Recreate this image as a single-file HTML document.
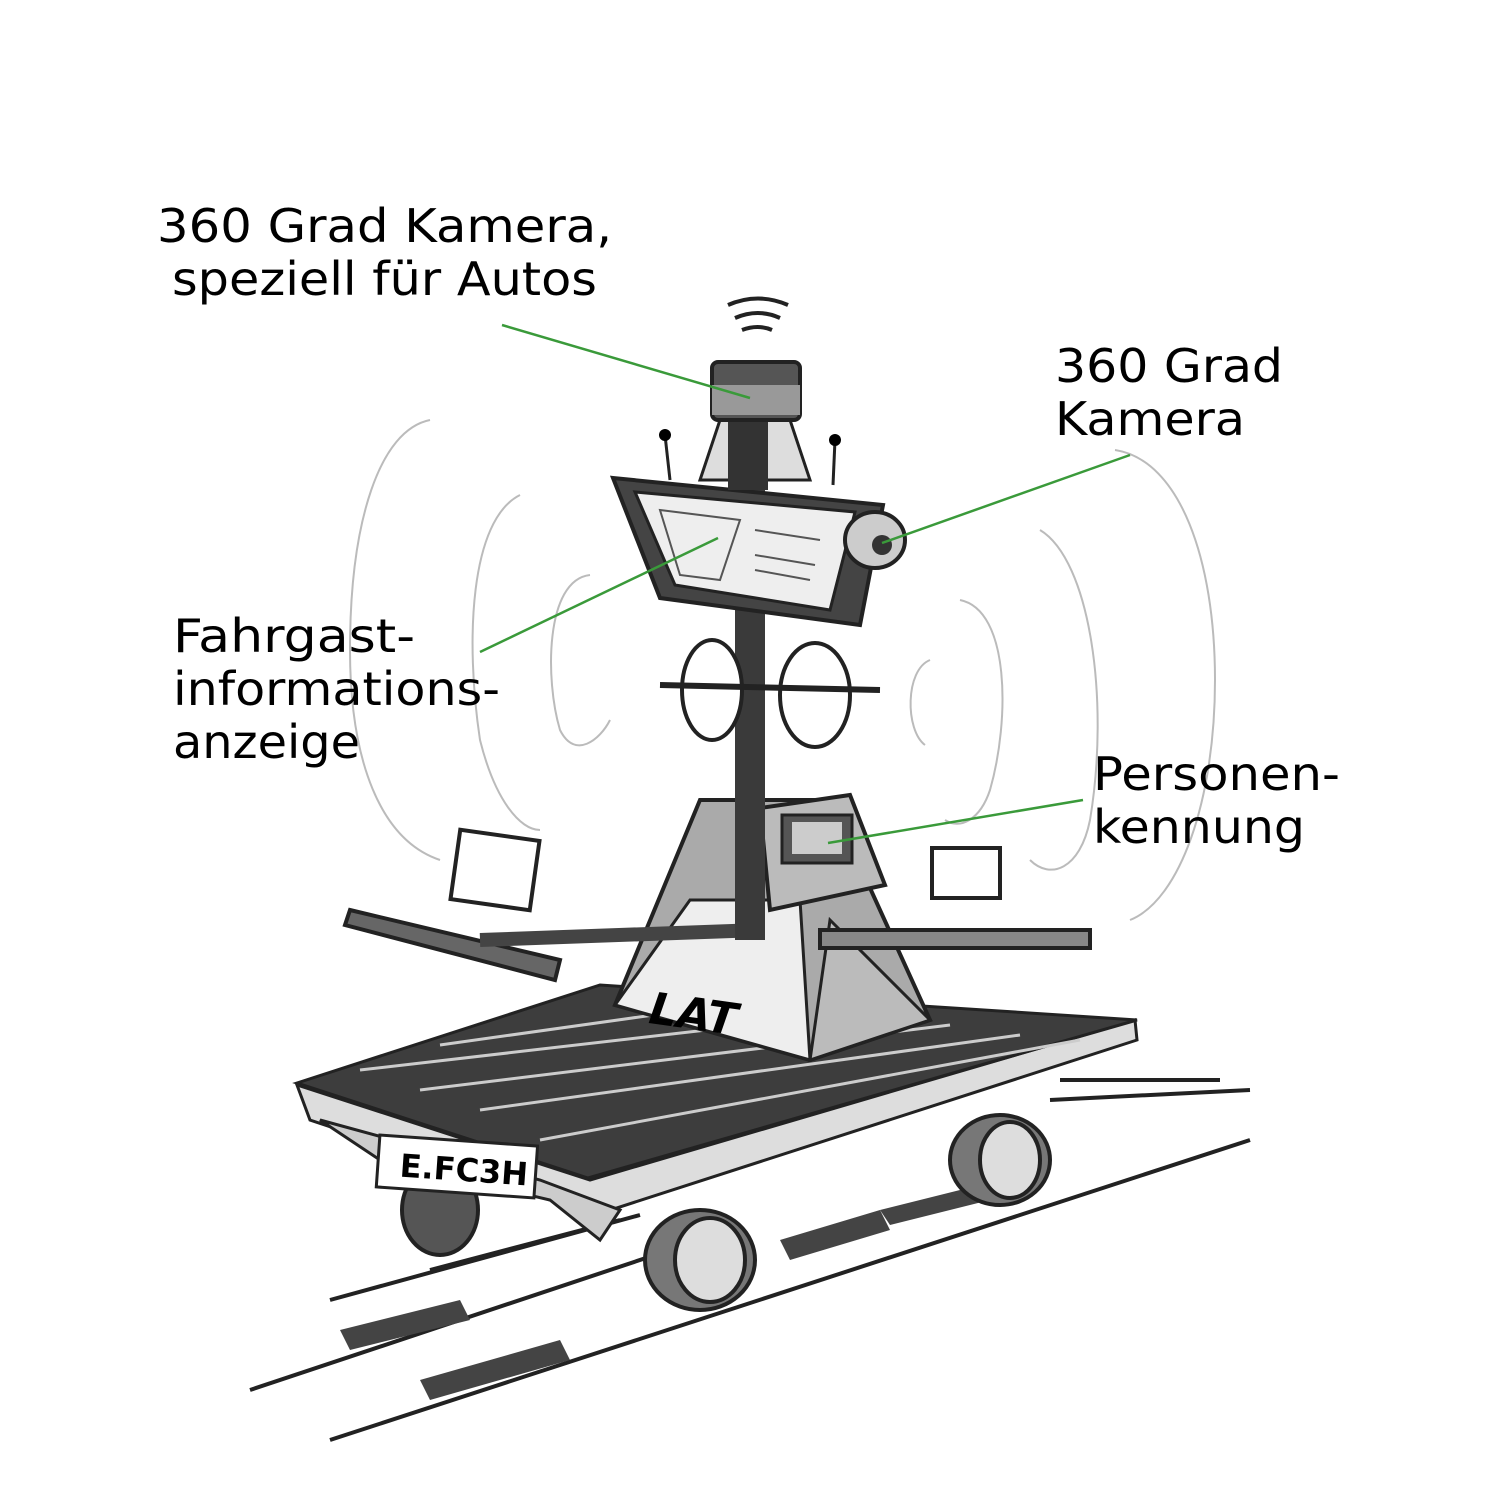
<!DOCTYPE html>
<html><head><meta charset="utf-8"><style>
html,body{margin:0;padding:0;background:#fff;}
svg{display:block}
text{font-family:"DejaVu Sans","Liberation Sans",sans-serif;font-size:46px;fill:#000}
</style></head><body>
<svg width="1500" height="1500" viewBox="0 0 1500 1500" xmlns="http://www.w3.org/2000/svg">
<g fill="none" stroke="#bbb" stroke-width="2">
<path d="M430 420 C380 430 350 520 350 650 C350 760 380 840 440 860"/>
<path d="M520 495 C470 520 465 640 480 740 C495 800 520 830 540 830"/>
<path d="M590 575 C545 580 545 680 560 730 C575 760 600 740 610 720"/>
<path d="M1115 450 C1180 460 1215 560 1215 680 C1215 800 1180 900 1130 920"/>
<path d="M1040 530 C1090 560 1110 700 1090 820 C1080 870 1050 880 1030 860"/>
<path d="M960 600 C1010 610 1010 720 990 790 C980 820 960 830 945 820"/>
<path d="M930 660 C905 670 905 730 925 745"/>
</g>
<g stroke="#222" stroke-width="4" fill="none">
<path d="M250 1390 L700 1240"/><path d="M330 1300 L640 1215"/>
<path d="M330 1440 L1250 1140"/><path d="M430 1270 L620 1220"/>
<path d="M1050 1100 L1250 1090"/><path d="M1060 1080 L1220 1080"/>
</g>
<g fill="#444">
<polygon points="340,1330 460,1300 470,1320 350,1350"/>
<polygon points="420,1380 560,1340 570,1360 430,1400"/>
<polygon points="780,1240 880,1210 890,1230 790,1260"/>
<polygon points="880,1210 980,1185 990,1200 890,1225"/>
</g>
<polygon points="297,1085 590,1180 1135,1020 1137,1040 595,1215 310,1120" fill="#ddd" stroke="#222" stroke-width="3"/>
<polygon points="320,1120 380,1160 550,1200 600,1240 620,1210 540,1180" fill="#ccc" stroke="#222" stroke-width="3"/>
<polygon points="297,1083 600,985 1137,1020 588,1178" fill="#3d3d3d" stroke="#222" stroke-width="3"/>
<g stroke="#ccc" stroke-width="3">
<line x1="360" y1="1070" x2="880" y2="1010"/><line x1="420" y1="1090" x2="950" y2="1025"/>
<line x1="480" y1="1110" x2="1020" y2="1035"/><line x1="540" y1="1140" x2="1080" y2="1040"/>
<line x1="440" y1="1045" x2="760" y2="1000"/>
</g>
<g stroke="#222" stroke-width="4">
<ellipse cx="440" cy="1210" rx="38" ry="45" fill="#555"/>
</g>
<rect x="378" y="1140" width="158" height="52" fill="#fff" stroke="#222" stroke-width="3" transform="rotate(4 450 1165)"/>
<text x="400" y="1180" style="font-size:32px;font-weight:bold" transform="rotate(4 450 1165)">E.FC3H</text>
<g stroke="#222" stroke-width="4">
<ellipse cx="700" cy="1260" rx="55" ry="50" fill="#777"/>
<ellipse cx="710" cy="1260" rx="35" ry="42" fill="#ddd"/>
<ellipse cx="1000" cy="1160" rx="50" ry="45" fill="#777"/>
<ellipse cx="1010" cy="1160" rx="30" ry="38" fill="#ddd"/>
</g>
<polygon points="615,1005 700,800 830,800 930,1020 810,1060" fill="#aaa" stroke="#222" stroke-width="4"/>
<polygon points="615,1005 690,900 800,900 810,1060" fill="#eee" stroke="#222" stroke-width="3"/>
<text x="650" y="1030" style="font-size:44px;font-weight:bold;font-style:italic" transform="rotate(8 700 1010)">LAT</text>
<polygon points="810,1060 830,920 930,1020" fill="#bbb" stroke="#222" stroke-width="3"/>
<polygon points="760,808 850,795 885,885 770,910" fill="#bbb" stroke="#222" stroke-width="4"/>
<rect x="782" y="815" width="70" height="48" fill="#555" stroke="#222" stroke-width="3"/>
<rect x="792" y="822" width="50" height="32" fill="#ccc"/>
<g stroke="#222" stroke-width="4">
<path d="M350 910 L560 960 L555 980 L345 925 Z" fill="#666"/>
<path d="M820 930 L1090 930 L1090 948 L820 948 Z" fill="#888"/>
<path d="M480 940 L760 930" stroke-width="14" stroke="#444"/>
<rect x="455" y="835" width="80" height="70" fill="#fff" transform="rotate(8 495 870)"/>
<rect x="932" y="848" width="68" height="50" fill="#fff"/>
</g>
<rect x="735" y="420" width="30" height="520" fill="#3a3a3a"/>
<ellipse cx="712" cy="690" rx="30" ry="50" fill="#fff" stroke="#222" stroke-width="4"/>
<ellipse cx="815" cy="695" rx="35" ry="52" fill="#fff" stroke="#222" stroke-width="4"/>
<line x1="660" y1="685" x2="880" y2="690" stroke="#222" stroke-width="6"/>
<polygon points="613,478 883,505 860,625 660,598" fill="#444" stroke="#222" stroke-width="4"/>
<polygon points="635,492 855,512 830,610 675,585" fill="#eee" stroke="#222" stroke-width="3"/>
<g stroke="#555" stroke-width="2" fill="none">
<path d="M660 510 L740 520 L720 580 L680 575 Z"/><path d="M755 530 L820 540"/><path d="M755 555 L815 565"/><path d="M755 570 L810 580"/>
</g>
<ellipse cx="875" cy="540" rx="30" ry="28" fill="#ccc" stroke="#222" stroke-width="4"/>
<circle cx="882" cy="545" r="10" fill="#333"/>
<path d="M700 480 L720 420 L790 420 L810 480 Z" fill="#ddd" stroke="#222" stroke-width="3"/>
<rect x="728" y="420" width="40" height="70" fill="#333"/>
<rect x="712" y="362" width="88" height="58" rx="6" fill="#555" stroke="#222" stroke-width="4"/>
<rect x="712" y="385" width="88" height="30" fill="#999"/>
<g fill="none" stroke="#222" stroke-width="4">
<path d="M735 318 Q758 308 780 318"/><path d="M728 305 Q758 292 788 305"/><path d="M742 330 Q758 324 772 330"/>
</g>
<line x1="665" y1="435" x2="670" y2="480" stroke="#222" stroke-width="3"/><circle cx="665" cy="435" r="6"/>
<line x1="835" y1="440" x2="833" y2="485" stroke="#222" stroke-width="3"/><circle cx="835" cy="440" r="6"/>
<text x="157" y="242" textLength="455" lengthAdjust="spacingAndGlyphs">360 Grad Kamera,</text>
<text x="172" y="295" textLength="425" lengthAdjust="spacingAndGlyphs">speziell für Autos</text>
<text x="1055" y="382" textLength="228" lengthAdjust="spacingAndGlyphs">360 Grad</text>
<text x="1055" y="435" textLength="190" lengthAdjust="spacingAndGlyphs">Kamera</text>
<text x="173" y="652" textLength="242" lengthAdjust="spacingAndGlyphs">Fahrgast-</text>
<text x="173" y="705" textLength="327" lengthAdjust="spacingAndGlyphs">informations-</text>
<text x="173" y="758" textLength="187" lengthAdjust="spacingAndGlyphs">anzeige</text>
<text x="1093" y="790" textLength="247" lengthAdjust="spacingAndGlyphs">Personen-</text>
<text x="1093" y="843" textLength="212" lengthAdjust="spacingAndGlyphs">kennung</text>
<g stroke="#3a9a3a" stroke-width="2.5">
<line x1="502" y1="325" x2="750" y2="398"/>
<line x1="1130" y1="455" x2="882" y2="543"/>
<line x1="480" y1="652" x2="718" y2="538"/>
<line x1="1083" y1="800" x2="828" y2="843"/>
</g>
</svg>
</body></html>
